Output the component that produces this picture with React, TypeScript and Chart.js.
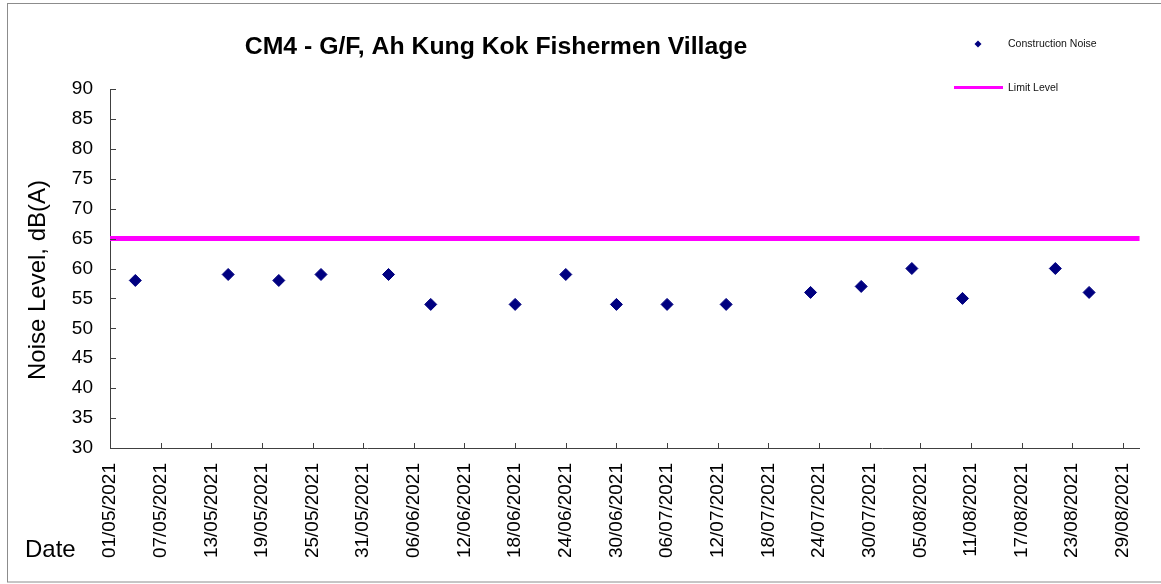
import React, { useEffect, useRef } from "react";
import { Chart, registerables } from "chart.js";

Chart.register(...registerables);

// ---------- data ----------
const MEASURE_DATES = [
  "04/05/2021", "15/05/2021", "21/05/2021", "26/05/2021", "03/06/2021",
  "08/06/2021", "18/06/2021", "24/06/2021", "30/06/2021", "06/07/2021",
  "13/07/2021", "23/07/2021", "29/07/2021", "04/08/2021", "10/08/2021",
  "21/08/2021", "25/08/2021",
];
const NOISE_LEVELS = [58, 59, 58, 59, 59, 54, 54, 59, 54, 54, 54, 56, 57, 60, 55, 60, 56];
const LIMIT_LEVEL = 65;

const AXIS_START = "01/05/2021";
const AXIS_END = "31/08/2021";
const X_STEP_DAYS = 6;
const Y_MIN = 30;
const Y_MAX = 90;
const Y_STEP = 5;

const TITLE = "CM4 - G/F, Ah Kung Kok Fishermen Village";
const Y_TITLE = "Noise Level, dB(A)";
const X_TITLE = "Date";
const SERIES_LABELS = ["Construction Noise", "Limit Level"];

// ---------- helpers ----------
const DAY_MS = 86400000;
function parseDate(s: string): number {
  const [dd, mm, yy] = s.split("/").map(Number);
  return Date.UTC(yy, mm - 1, dd);
}
const T0 = parseDate(AXIS_START);
const toDay = (s: string) => Math.round((parseDate(s) - T0) / DAY_MS);
const pad2 = (n: number) => (n < 10 ? "0" + n : "" + n);
function fmtDay(n: number): string {
  const d = new Date(T0 + n * DAY_MS);
  return pad2(d.getUTCDate()) + "/" + pad2(d.getUTCMonth() + 1) + "/" + d.getUTCFullYear();
}

const FONT = "Arial, 'Liberation Sans', sans-serif";
const AXIS_COLOR = "#404040";
const NAVY = "#000080";
const MAGENTA = "#FF00FF";

const decorPlugin = {
  id: "decor",
  afterDraw(chart: any) {
    const ctx = chart.ctx as CanvasRenderingContext2D;
    const area = chart.chartArea;
    const xs = chart.scales.x;
    const ys = chart.scales.y;
    ctx.save();

    // inside tick marks
    ctx.strokeStyle = AXIS_COLOR;
    ctx.lineWidth = 1;
    ctx.beginPath();
    xs.ticks.forEach((t: any) => {
      const px = Math.round(xs.getPixelForValue(t.value)) + 0.5;
      ctx.moveTo(px, area.bottom);
      ctx.lineTo(px, area.bottom - 5);
    });
    ys.ticks.forEach((t: any) => {
      const py = Math.round(ys.getPixelForValue(t.value)) + 0.5;
      ctx.moveTo(area.left, py);
      ctx.lineTo(area.left + 6, py);
    });
    ctx.stroke();

    // outer frame
    ctx.strokeStyle = "#8c8c8c";
    ctx.lineWidth = 1;
    ctx.strokeRect(7.5, 3.5, 1200, 578.5);

    // title
    ctx.fillStyle = "#000";
    ctx.font = "bold 24.8px " + FONT;
    ctx.textAlign = "center";
    ctx.textBaseline = "alphabetic";
    ctx.fillText(TITLE, 496, 54);

    // y title
    ctx.save();
    ctx.translate(38, 280);
    ctx.rotate(-Math.PI / 2);
    ctx.font = "24px " + FONT;
    ctx.textAlign = "center";
    ctx.textBaseline = "middle";
    ctx.fillText(Y_TITLE, 0, 0);
    ctx.restore();

    // x title
    ctx.font = "24px " + FONT;
    ctx.textAlign = "left";
    ctx.textBaseline = "alphabetic";
    ctx.fillText(X_TITLE, 25, 557);

    // legend
    ctx.fillStyle = NAVY;
    ctx.beginPath();
    const mx = 978, my = 44, r = 3.5;
    ctx.moveTo(mx - r, my);
    ctx.lineTo(mx, my - r);
    ctx.lineTo(mx + r, my);
    ctx.lineTo(mx, my + r);
    ctx.closePath();
    ctx.fill();
    ctx.strokeStyle = MAGENTA;
    ctx.lineWidth = 3;
    ctx.beginPath();
    ctx.moveTo(954, 87.5);
    ctx.lineTo(1003, 87.5);
    ctx.stroke();
    ctx.fillStyle = "#111";
    ctx.font = "10.5px " + FONT;
    ctx.textAlign = "left";
    ctx.textBaseline = "middle";
    ctx.fillText(SERIES_LABELS[0], 1008, 44);
    ctx.fillText(SERIES_LABELS[1], 1008, 88);

    ctx.restore();
  },
};

export default function App() {
  const ref = useRef<HTMLCanvasElement | null>(null);

  useEffect(() => {
    if (!ref.current) return;
    const xMin = 0;
    const xMax = toDay(AXIS_END);
    const chart = new Chart(ref.current, {
      type: "scatter",
      data: {
        datasets: [
          {
            label: SERIES_LABELS[0],
            data: MEASURE_DATES.map((d, i) => ({ x: toDay(d), y: NOISE_LEVELS[i] })),
            pointStyle: "rectRot",
            pointRadius: 6,
            pointHoverRadius: 6,
            borderWidth: 1,
            backgroundColor: NAVY,
            borderColor: NAVY,
            showLine: false,
            order: 1,
          },
          {
            label: SERIES_LABELS[1],
            type: "line",
            data: [
              { x: xMin, y: LIMIT_LEVEL },
              { x: xMax, y: LIMIT_LEVEL },
            ],
            borderColor: MAGENTA,
            backgroundColor: MAGENTA,
            borderWidth: 5,
            pointRadius: 0,
            showLine: true,
            fill: false,
            order: 2,
          } as any,
        ],
      },
      options: {
        animation: false,
        responsive: false,
        events: [],
        layout: { padding: { top: 89, right: 21, bottom: 0, left: 0 } },
        plugins: {
          legend: { display: false },
          title: { display: false },
          tooltip: { enabled: false },
        },
        scales: {
          x: {
            type: "linear",
            min: xMin,
            max: xMax,
            grid: { display: false, drawTicks: false },
            border: { display: true, color: AXIS_COLOR, width: 1 },
            ticks: {
              stepSize: X_STEP_DAYS,
              includeBounds: false,
              autoSkip: false,
              minRotation: 90,
              maxRotation: 90,
              padding: 15,
              color: "#000",
              font: { family: FONT, size: 19 },
              callback: (v: any) => fmtDay(Number(v)),
            },
            afterFit: (s: any) => {
              s.height = 136;
            },
          },
          y: {
            type: "linear",
            min: Y_MIN,
            max: Y_MAX,
            grid: { display: false, drawTicks: false },
            border: { display: true, color: AXIS_COLOR, width: 1 },
            ticks: {
              stepSize: Y_STEP,
              padding: 17,
              color: "#000",
              font: { family: FONT, size: 19 },
            },
            afterFit: (s: any) => {
              s.width = 110;
            },
          },
        },
      },
      plugins: [decorPlugin],
    });
    return () => chart.destroy();
  }, []);

  return (
    <div style={{ position: "fixed", left: 0, top: 0, width: 1161, height: 584, background: "#fff" }}>
      <canvas ref={ref} width={1161} height={584} style={{ display: "block" }} />
    </div>
  );
}
